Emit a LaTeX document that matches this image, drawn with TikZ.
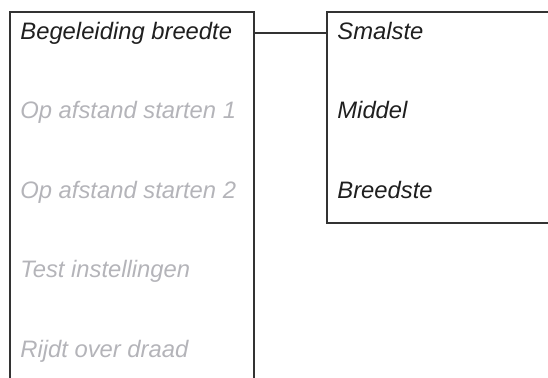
\documentclass[tikz,border=0pt]{standalone}
\usepackage{fontspec}
\setmainfont{Liberation Sans}
\begin{document}
\begin{tikzpicture}[x=0.5pt,y=-0.5pt,
  box/.style={draw=black!80,line width=0.7pt},
  item/.style={anchor=base west,inner sep=0pt,font=\fontsize{11.9}{13}\selectfont\itshape},
  active/.style={item,text=black!88},
  dim/.style={item,text={rgb,255:red,180;green,180;blue,185}}]
\useasboundingbox (0,0) rectangle (548,378);
\clip (0,0) rectangle (548,378);
\draw[box] (10,390) -- (10,12) coordinate (lt) -- (254,12) -- (254,390);
\draw[box] (560,12) -- (327,12) -- (327,223) -- (560,223);
\coordinate (la) at (254,33);
\coordinate (ra) at (327,33);
\draw[box] (la) -- (ra);
\node[active] (b1) at (20,39.5) {Begeleiding breedte};
\node[dim] (b2) at (20,119) {Op afstand starten 1};
\node[dim] (b3) at (20,199) {Op afstand starten 2};
\node[dim] (b4) at (20,278) {Test instellingen};
\node[dim] (b5) at (20,358) {Rijdt over draad};
\node[active] (s1) at (337,39.5) {Smalste};
\node[active] (s2) at (337,119) {Middel};
\node[active] (s3) at (337,199) {Breedste};
\end{tikzpicture}
\end{document}
